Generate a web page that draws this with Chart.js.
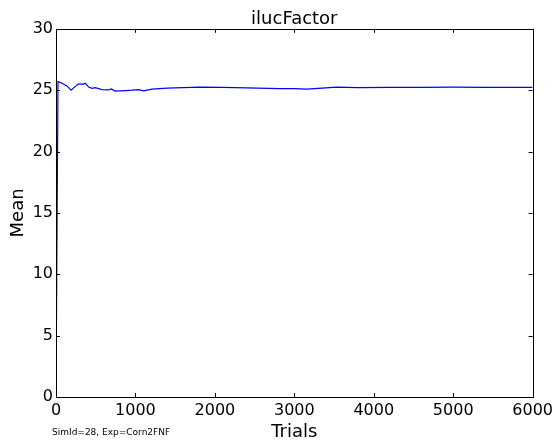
<!DOCTYPE html>
<html>
<head>
<meta charset="utf-8">
<script src="https://cdn.jsdelivr.net/npm/chart.js@4/dist/chart.umd.min.js"></script>
<style>
  html, body { margin: 0; padding: 0; background: #fff; }
  #wrap { width: 557px; height: 443px; }
</style>
</head>
<body>
<div id="wrap"><canvas id="grafico" width="557" height="443"></canvas></div>
<script>
// Datos (media acumulada por número de ensayos)
const trials = [0, 25, 75, 138, 189, 252, 277, 348, 369, 411, 453, 494, 579, 663, 696, 746,
  877, 956, 1040, 1103, 1208, 1400, 1600, 1811, 2100, 2400, 2818, 3000, 3157, 3350, 3535,
  3800, 4200, 4600, 5000, 5400, 5800, 6000];
const means = [0.3, 25.7, 25.56, 25.35, 25.0, 25.35, 25.5, 25.5, 25.56, 25.25, 25.15, 25.2,
  25.05, 25.03, 25.1, 24.92, 24.97, 25.0, 25.05, 24.95, 25.08, 25.16, 25.2, 25.24, 25.22,
  25.18, 25.13, 25.13, 25.08, 25.17, 25.24, 25.2, 25.22, 25.22, 25.24, 25.23, 25.22, 25.22];
const xTicks = [0, 1000, 2000, 3000, 4000, 5000, 6000];
const yTicks = [0, 5, 10, 15, 20, 25, 30];

const titulo = 'ilucFactor';
const nota = 'SimId=28, Exp=Corn2FNF';
const fuente = '"DejaVu Sans", sans-serif';

// Marco completo y marcas hacia dentro (estilo matplotlib)
const marcoPlugin = {
  id: 'marco',
  afterDraw(chart) {
    const { ctx, chartArea: a, scales } = chart;
    ctx.save();
    ctx.strokeStyle = '#000';
    ctx.lineWidth = 1;
    ctx.strokeRect(Math.round(a.left) + 0.5, Math.round(a.top) + 0.5,
      Math.round(a.right - a.left), Math.round(a.bottom - a.top));
    const largo = 4;
    ctx.beginPath();
    xTicks.forEach(v => {
      const x = Math.round(scales.x.getPixelForValue(v)) + 0.5;
      ctx.moveTo(x, a.bottom); ctx.lineTo(x, a.bottom - largo);
      ctx.moveTo(x, a.top); ctx.lineTo(x, a.top + largo);
    });
    yTicks.forEach(v => {
      const y = Math.round(scales.y.getPixelForValue(v)) + 0.5;
      ctx.moveTo(a.left, y); ctx.lineTo(a.left + largo, y);
      ctx.moveTo(a.right, y); ctx.lineTo(a.right - largo, y);
    });
    ctx.stroke();
    // nota al pie
    ctx.fillStyle = '#000';
    ctx.font = '9px ' + fuente;
    ctx.textAlign = 'left';
    ctx.textBaseline = 'alphabetic';
    ctx.fillText(nota, 52, 435);
    ctx.restore();
  }
};

const ctx = document.getElementById('grafico').getContext('2d');
new Chart(ctx, {
  type: 'line',
  data: {
    datasets: [{
      data: trials.map((t, i) => ({ x: t, y: means[i] })),
      borderColor: '#0000ff',
      borderWidth: 1.2,
      pointRadius: 0,
      tension: 0,
      fill: false
    }]
  },
  options: {
    responsive: false,
    animation: false,
    layout: { padding: { left: 0, right: 24, top: 0, bottom: 0 } },
    plugins: {
      legend: { display: false },
      tooltip: { enabled: false },
      title: {
        display: true,
        text: titulo,
        fullSize: false,
        color: '#000',
        font: { family: fuente, size: 18, weight: 'normal', lineHeight: 1.1 },
        padding: { top: 9, bottom: 0 }
      }
    },
    scales: {
      x: {
        type: 'linear',
        min: 0, max: 6000,
        grid: { display: false, drawTicks: false },
        border: { display: false },
        afterBuildTicks: s => { s.ticks = xTicks.map(v => ({ value: v })); },
        afterFit: s => { s.height = 46; },
        ticks: {
          color: '#000', padding: 4, maxRotation: 0,
          font: { family: fuente, size: 16 },
          callback: v => String(v)
        },
        title: {
          display: true, text: 'Trials', color: '#000',
          font: { family: fuente, size: 18 }, padding: { top: 0, bottom: 0 }
        }
      },
      y: {
        min: 0, max: 30,
        grid: { display: false, drawTicks: false },
        border: { display: false },
        afterBuildTicks: s => { s.ticks = yTicks.map(v => ({ value: v })); },
        afterFit: s => { s.width = 56; },
        ticks: { color: '#000', padding: 3, font: { family: fuente, size: 16 } },
        title: {
          display: true, text: 'Mean', color: '#000',
          font: { family: fuente, size: 18 }, padding: { top: 8, bottom: 0 }
        }
      }
    }
  },
  plugins: [marcoPlugin]
});
</script>
</body>
</html>
